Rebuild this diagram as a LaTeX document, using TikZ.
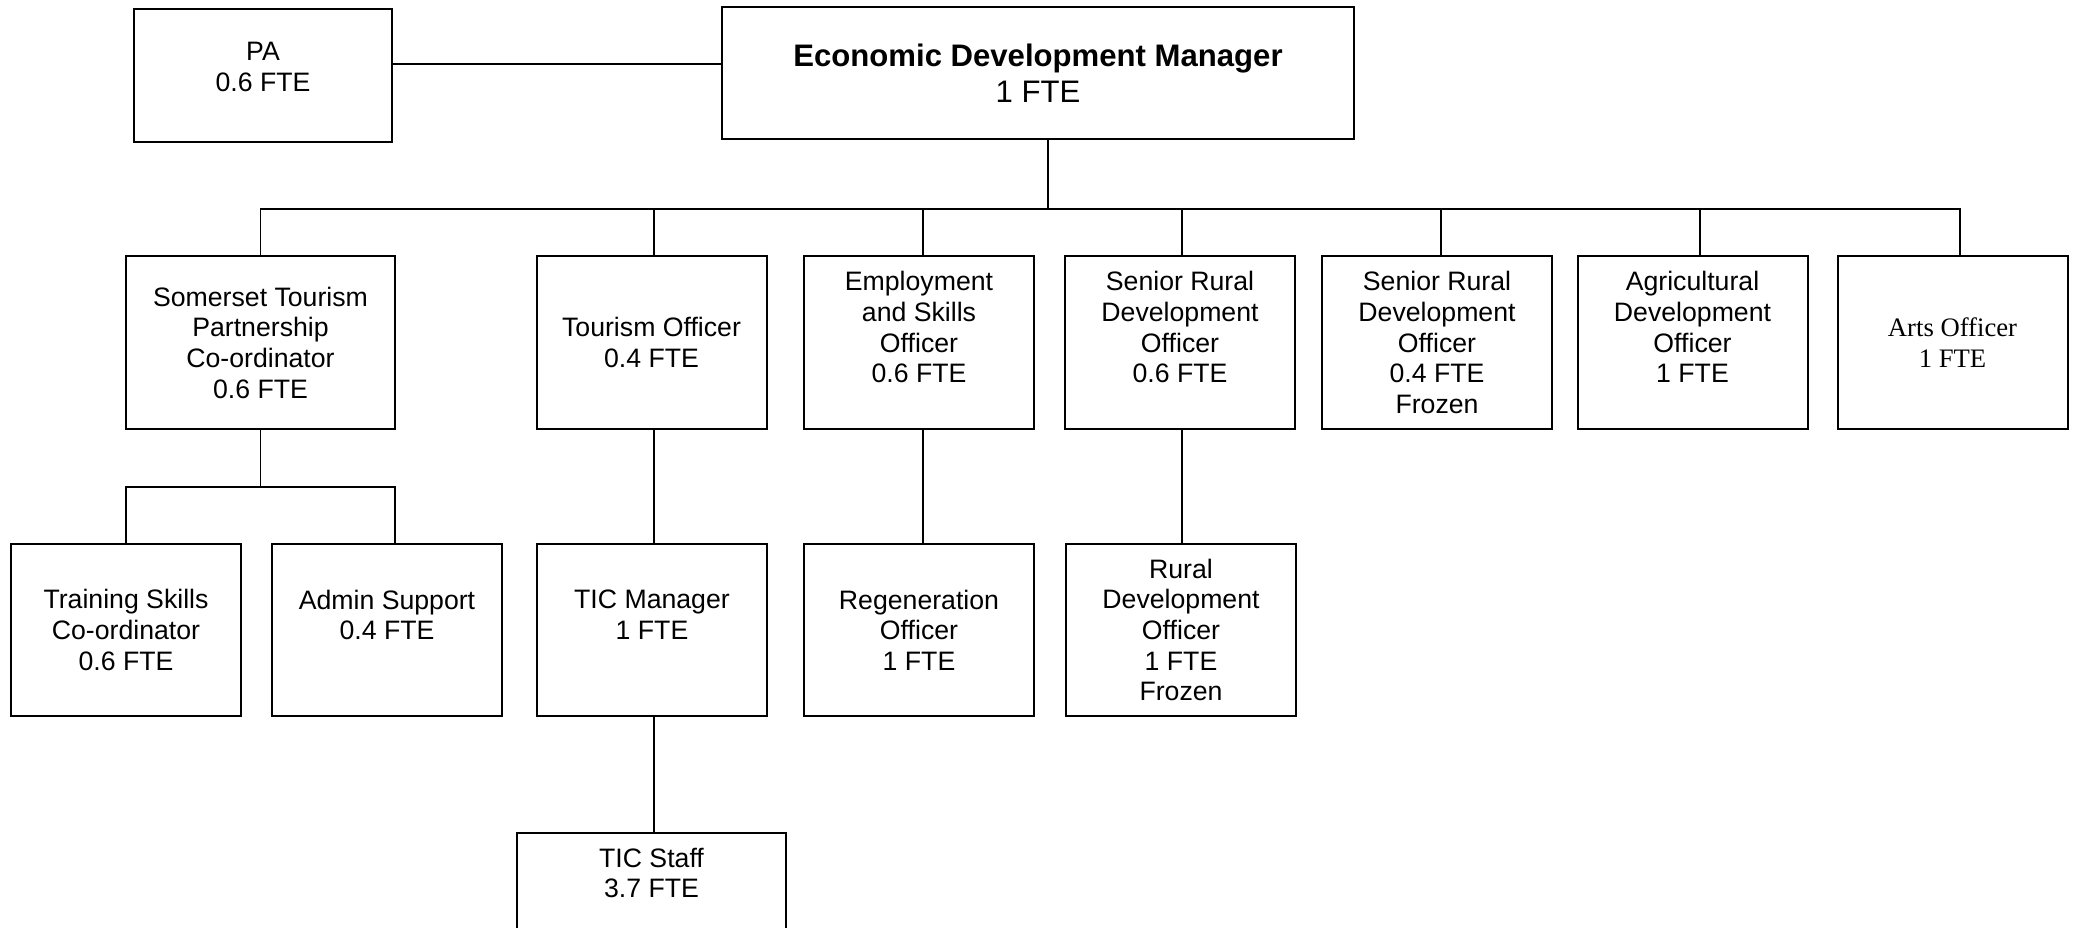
\documentclass[tikz,border=0pt]{standalone}
\usepackage{fontspec}
\setmainfont{Liberation Sans}
\newfontfamily\artsfont{Liberation Serif}

\tikzset{
  post/.style={draw, line width=0.9pt, inner sep=0pt, align=center,
    minimum width=103.5pt, minimum height=77.6pt},
  wide/.style={minimum width=121pt},
  link/.style={line width=0.85pt}
}

\begin{document}
\begin{tikzpicture}[x=0.45pt,y=-0.45pt,font=\fontsize{12}{13.8}\selectfont]
    \clip (0,0) rectangle (2078,927);

    % Top level
    \node[post, minimum width=116.1pt, minimum height=59.9pt] (pa) at (263,75.5) {PA\\0.6 FTE\\[-6pt]~};
    \node[post, minimum width=284.4pt, minimum height=59.4pt, font=\fontsize{14}{16.1}\selectfont] (edm) at (1038,73) {\textbf{Economic Development Manager}\\1 FTE};

    % Second row
    \node[post, wide] (stp) at (260.5,342.5) {Somerset Tourism\\Partnership\\Co-ordinator\\0.6 FTE};
    \node[post] (tour) at (651.5,342.5) {Tourism Officer\\0.4 FTE};
    \node[post] (emp) at (919,342.5) {Employment\\and Skills\\Officer\\0.6 FTE\\~};
    \node[post] (srdoa) at (1180,342.5) {Senior Rural\\Development\\Officer\\0.6 FTE\\~};
    \node[post] (srdob) at (1437,342.5) {Senior Rural\\Development\\Officer\\0.4 FTE\\Frozen};
    \node[post] (agri) at (1692.5,342.5) {Agricultural\\Development\\Officer\\1 FTE\\~};
    \node[post, font=\artsfont\fontsize{12}{13.8}\selectfont] (arts) at (1952.5,342.5) {Arts Officer\\1 FTE};

    % Third row
    \node[post] (train) at (126,630) {Training Skills\\Co-ordinator\\0.6 FTE};
    \node[post] (admin) at (387,630) {Admin Support\\0.4 FTE\\~};
    \node[post] (ticm) at (652,630) {TIC Manager\\1 FTE\\~};
    \node[post] (regen) at (919,630) {Regeneration\\Officer\\1 FTE};
    \node[post] (rural) at (1181,630) {Rural\\Development\\Officer\\1 FTE\\Frozen};

    % Bottom
    \node[post, wide] (tics) at (651.5,919) {TIC Staff\\3.7 FTE\\~\\~\\~};

    % Connectors
    \coordinate (palink) at (0,64);
    \coordinate (bus) at (1048,209);
    \coordinate (sub) at (261,487);
    \draw[link] (pa.east |- palink) -- (edm.west |- palink);
    \draw[link] (edm.south -| bus) -- (bus);
    \draw[link] (stp.north) |- ([xshift=3.4pt]arts.north |- bus) -- ([xshift=3.4pt]arts.north);
    \foreach \n/\dx in {tour/1.1,emp/1.8,srdoa/0.9,srdob/1.8,agri/3.4}
        \draw[link] ([xshift=\dx pt]\n.north) -- ([xshift=\dx pt]\n.north |- bus);
    \draw[link] (stp.south) -- (stp.south |- sub);
    \draw[link] (train.north) |- ([xshift=3.6pt]admin.north |- sub) -- ([xshift=3.6pt]admin.north);
    \draw[link] ([xshift=1.1pt]tour.south) -- ([xshift=1.1pt]tour.south |- ticm.north);
    \draw[link] ([xshift=1.8pt]emp.south) -- ([xshift=1.8pt]emp.south |- regen.north);
    \draw[link] ([xshift=0.9pt]srdoa.south) -- ([xshift=0.9pt]srdoa.south |- rural.north);
    \draw[link] ([xshift=1.1pt]tour.south |- ticm.south) -- ([xshift=1.1pt]tour.south |- tics.north);
\end{tikzpicture}
\end{document}
